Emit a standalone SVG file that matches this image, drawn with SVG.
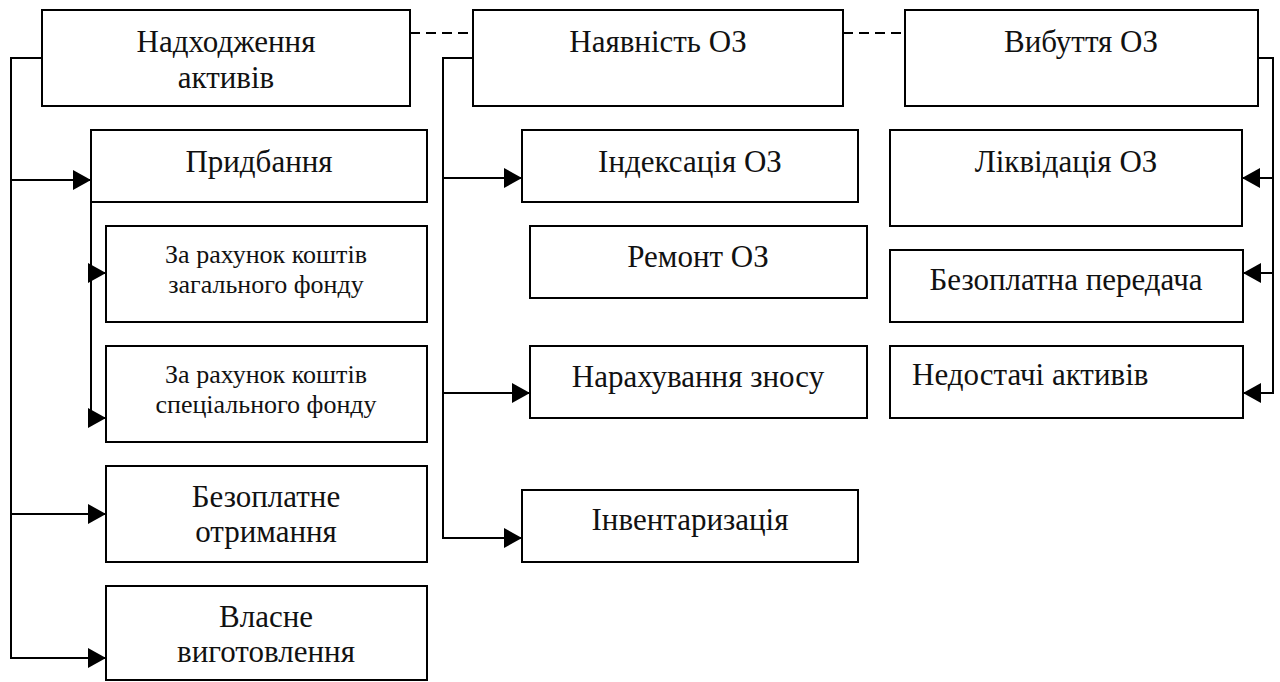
<svg xmlns="http://www.w3.org/2000/svg" width="1280" height="682" viewBox="0 0 1280 682">
<style>
rect{fill:#fff;stroke:#000;stroke-width:2}
.c{fill:none;stroke:#000;stroke-width:2}
.d{fill:none;stroke:#000;stroke-width:2;stroke-dasharray:10,6}
</style>
<defs>
<marker id="a" markerUnits="userSpaceOnUse" markerWidth="18" markerHeight="20" refX="18" refY="10" orient="auto">
<path d="M0,0 L18,10 L0,20 z" fill="#000"/>
</marker>
</defs>
<rect width="1280" height="682" style="fill:#fff;stroke:none"/>
<g id="connectors">
<path class="d" d="M410,33 H473"/>
<path class="d" d="M843,33 H905"/>
<path class="c" d="M42,58 H11 V658 H106" marker-end="url(#a)"/>
<path class="c" d="M11,180 H91" marker-end="url(#a)"/>
<path class="c" d="M11,514 H106" marker-end="url(#a)"/>
<path class="c" d="M91,202 V418 H106" marker-end="url(#a)"/>
<path class="c" d="M91,273 H106" marker-end="url(#a)"/>
<path class="c" d="M473,58 H443 V538 H522" marker-end="url(#a)"/>
<path class="c" d="M443,178 H522" marker-end="url(#a)"/>
<path class="c" d="M443,393 H530" marker-end="url(#a)"/>
<path class="c" d="M1258,58 H1273 V393 H1243" marker-end="url(#a)"/>
<path class="c" d="M1273,178 H1242" marker-end="url(#a)"/>
<path class="c" d="M1273,273 H1243" marker-end="url(#a)"/>
</g>
<g font-family="Liberation Serif, 'Times New Roman', serif" font-size="31" fill="#111" text-anchor="middle">
<g id="n-nadkhodzhennia"><rect x="42" y="10" width="368" height="96"/><text x="226" y="52">Надходження</text><text x="226" y="88">активів</text></g>
<g id="n-nayavnist"><rect x="473" y="10" width="370" height="96"/><text x="658" y="52">Наявність ОЗ</text></g>
<g id="n-vybuttia"><rect x="905" y="10" width="353" height="96"/><text x="1081" y="52">Вибуття ОЗ</text></g>
<g id="n-prydbannia"><rect x="91" y="130" width="336" height="72"/><text x="259" y="172">Придбання</text></g>
<g id="n-zf"><rect x="106" y="226" width="321" height="96"/><text font-size="26" x="266" y="263">За рахунок коштів</text><text font-size="26" x="266" y="293">загального фонду</text></g>
<g id="n-sf"><rect x="106" y="346" width="321" height="96"/><text font-size="26" x="266" y="383">За рахунок коштів</text><text font-size="26" x="266" y="413">спеціального фонду</text></g>
<g id="n-bezoplatne"><rect x="106" y="466" width="321" height="96"/><text x="266" y="507">Безоплатне</text><text x="266" y="542">отримання</text></g>
<g id="n-vlasne"><rect x="106" y="586" width="321" height="94"/><text x="266" y="627">Власне</text><text x="266" y="662">виготовлення</text></g>
<g id="n-indeksatsiia"><rect x="522" y="130" width="336" height="72"/><text x="690" y="172">Індексація ОЗ</text></g>
<g id="n-remont"><rect x="530" y="226" width="337" height="72"/><text x="698" y="267">Ремонт ОЗ</text></g>
<g id="n-znos"><rect x="530" y="346" width="337" height="72"/><text x="698" y="387">Нарахування зносу</text></g>
<g id="n-inventaryzatsiia"><rect x="522" y="490" width="336" height="72"/><text x="690" y="530">Інвентаризація</text></g>
<g id="n-likvidatsiia"><rect x="890" y="130" width="352" height="96"/><text x="1066" y="172">Ліквідація ОЗ</text></g>
<g id="n-peredacha"><rect x="890" y="250" width="353" height="72"/><text x="1066" y="290">Безоплатна передача</text></g>
<g id="n-nedostachi"><rect x="890" y="346" width="353" height="72"/><text x="912" y="385" text-anchor="start">Недостачі активів</text></g>
</g>
</svg>
